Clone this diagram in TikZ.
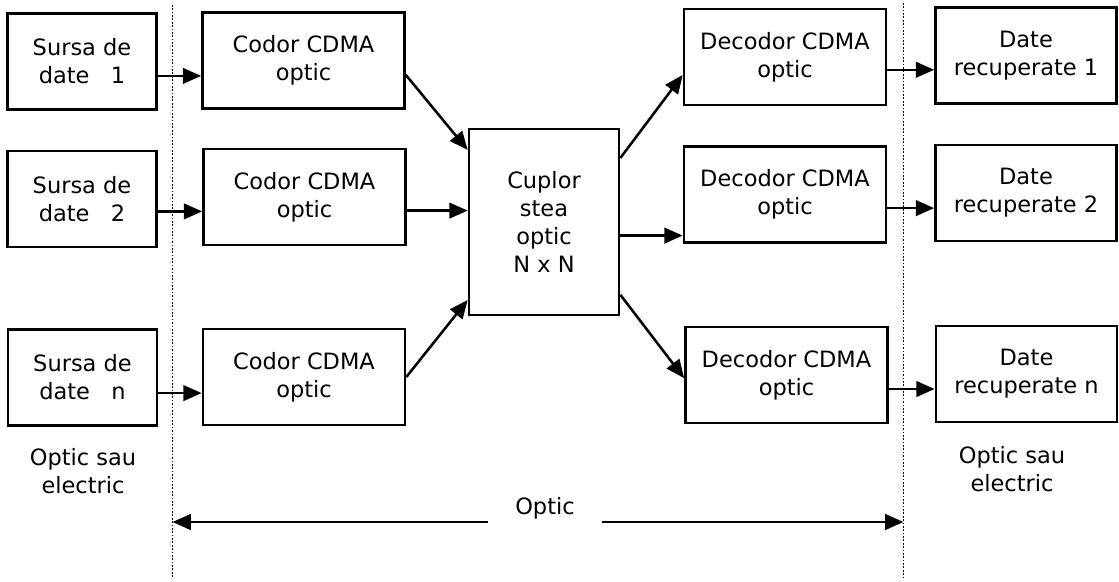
\documentclass[tikz,border=0pt]{standalone}
\usepackage{fontspec}
\setmainfont{DejaVu Sans}
\usepackage{tikz}
\usetikzlibrary{
    arrows.meta,
    calc
}
\tikzset{
    block/.style={
        rectangle,
        draw=black,
        line width=1.9pt,
        align=center,
        inner sep=0pt,
        minimum height=24mm,
        font=\fontsize{16}{20}\selectfont
    },
    srcblock/.style={
        block,
        minimum width=37.25mm
    },
    cdmablock/.style={
        block,
        minimum width=50.5mm
    },
    outblock/.style={
        block,
        minimum width=45.25mm
    },
    coupler/.style={
        block,
        minimum width=37.5mm,
        minimum height=46.5mm
    },
    arrow/.style={
        -{Triangle[length=4.6mm,width=3.9mm]},
        line width=1.8pt
    },
    boundary/.style={
        line width=1.3pt,
        dash pattern=on 1.2pt off 1.2pt
    },
    caption/.style={
        align=center,
        font=\fontsize{16}{20}\selectfont
    }
}

\begin{document}
\begin{tikzpicture}[x=0.25mm, y=-0.25mm]
\useasboundingbox (0,0) rectangle (1119,582);

% sources
\node[srcblock] (src1) at (82,61.5) {Sursa de\\date\ \ \ 1};
\node[srcblock] (src2) at (82,199) {Sursa de\\date\ \ \ 2};
\node[srcblock] (srcn) at (82.5,377.5) {Sursa de\\date\ \ \ n};

% encoders
\node[cdmablock] (cod1) at (303.5,60.5) {Codor CDMA\\optic};
\node[cdmablock] (cod2) at (304.5,197) {Codor CDMA\\optic};
\node[cdmablock] (codn) at (304,377) {Codor CDMA\\optic};

% star coupler
\node[coupler] (star) at (544,222) {Cuplor\\stea\\optic\\N x N};

% decoders
\node[cdmablock] (dec1) at (785,57) {Decodor CDMA\\optic};
\node[cdmablock] (dec2) at (785,194.5) {Decodor CDMA\\optic};
\node[cdmablock] (decn) at (786.5,375) {Decodor CDMA\\optic};

% recovered data
\node[outblock] (rec1) at (1026,55.5) {Date\\recuperate 1};
\node[outblock] (rec2) at (1026,193) {Date\\recuperate 2};
\node[outblock] (recn) at (1026.5,374) {Date\\recuperate n};

% domain labels
\node[caption] (domL) at (83,471) {Optic sau\\electric};
\node[caption] (domR) at (1012,469) {Optic sau\\electric};
\node[caption, inner xsep=19.5pt] (optic) at (545,508) {Optic};

% optical domain borders
\coordinate (bl1) at (172.5,5);
\coordinate (bl2) at (172.5,578);
\coordinate (br1) at (903.5,3);
\coordinate (br2) at (903.5,578);
\draw[boundary] (bl1) -- (bl2);
\draw[boundary] (br1) -- (br2);

\coordinate (optL) at (172.5,522);
\coordinate (optR) at (903.5,522);
\draw[arrow] (optL -| optic.west) -- (optL);
\draw[arrow] (optR -| optic.east) -- (optR);

% sources -> encoders
\draw[arrow] ([yshift=-3.6mm]src1.east) -- ([yshift=-3.6mm]src1.east -| cod1.west);
\draw[arrow] ([yshift=-3.1mm]src2.east) -- ([yshift=-3.1mm]src2.east -| cod2.west);
\draw[arrow] ([yshift=-3.9mm]srcn.east) -- ([yshift=-3.9mm]srcn.east -| codn.west);

% encoders -> coupler
\draw[arrow] ([yshift=-3.6mm]cod1.east) -- ([yshift=18mm]star.west);
\draw[arrow] ([yshift=-3.4mm]cod2.east) -- ([yshift=-3.4mm]cod2.east -| star.west);
\draw[arrow] (codn.east) -- ([yshift=-19.5mm]star.west);

% coupler -> decoders
\draw[arrow] ([yshift=16mm]star.east) -- ([yshift=-4.5mm]dec1.west);
\draw[arrow] ([yshift=-3.4mm]star.east) -- ([yshift=-3.4mm]star.east -| dec2.west);
\draw[arrow] ([yshift=-18.2mm]star.east) -- ([yshift=-0.8mm]decn.west);

% decoders -> recovered data
\draw[arrow] ([yshift=-3.2mm]dec1.east) -- ([yshift=-3.2mm]dec1.east -| rec1.west);
\draw[arrow] ([yshift=-3.4mm]dec2.east) -- ([yshift=-3.4mm]dec2.east -| rec2.west);
\draw[arrow] ([yshift=-3.5mm]decn.east) -- ([yshift=-3.5mm]decn.east -| recn.west);
\end{tikzpicture}
\end{document}
